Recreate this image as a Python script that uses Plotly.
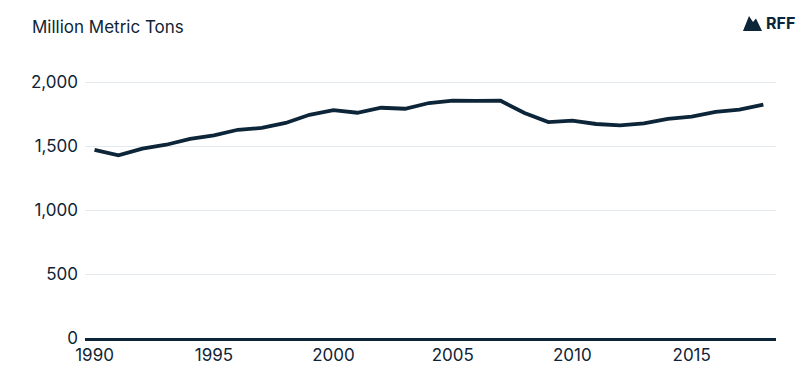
import plotly.graph_objects as go

years = list(range(1990, 2019))
emissions = [1470, 1427, 1479, 1510, 1555, 1583, 1627, 1641, 1680, 1744,
             1781, 1760, 1799, 1791, 1836, 1854, 1852, 1854, 1758, 1687,
             1698, 1672, 1661, 1677, 1713, 1729, 1766, 1784, 1823]
x_ticks = [1990, 1995, 2000, 2005, 2010, 2015]
y_ticks = [0, 500, 1000, 1500, 2000]

DARK = "#0c2538"
TEXT = "#0f2436"
GRID = "#e2eaf0"
FONT = "Inter"

W, H = 811, 383
L, R, T, B = 85, 35, 81, 45
pw, ph = W - L - R, H - T - B

def px(x):
    return (x - L) / pw

def py(y):
    return (H - B - y) / ph

fig = go.Figure()
fig.add_trace(go.Scatter(
    x=years, y=emissions, mode="lines",
    line=dict(color=DARK, width=3.8),
    hoverinfo="x+y", showlegend=False,
))

# RFF logo mountain
pts = [(743, 31), (749, 16), (753, 22), (756, 18.5), (762, 31)]
path = "M " + " L ".join(f"{px(a):.5f},{py(b):.5f}" for a, b in pts) + " Z"

fig.update_layout(
    width=W, height=H,
    margin=dict(l=L, r=R, t=T, b=B),
    paper_bgcolor="white", plot_bgcolor="white",
    font=dict(family=FONT, color=TEXT, size=17),
    xaxis=dict(
        range=[1989.6, 2018.53], tickvals=x_ticks, ticktext=[str(v) for v in x_ticks],
        showgrid=False, zeroline=False, showline=True, linecolor=DARK, linewidth=2.6,
        ticks="", tickfont=dict(size=17, color=TEXT),
    ),
    yaxis=dict(
        range=[0, 2008], tickvals=y_ticks, tickformat=",",
        showgrid=True, gridcolor=GRID, gridwidth=1.3, zeroline=False,
        showline=False, ticks="", ticklabelstandoff=6,
        tickfont=dict(size=17, color=TEXT),
    ),
    shapes=[dict(type="path", xref="paper", yref="paper", path=path,
                 fillcolor=DARK, line=dict(width=0))],
    annotations=[
        dict(text="Million Metric Tons", xref="paper", yref="paper",
             x=px(30), y=py(27), xanchor="left", yanchor="middle",
             showarrow=False, font=dict(size=17, color=TEXT, family=FONT)),
        dict(text="<b>RFF</b>", xref="paper", yref="paper",
             x=px(764), y=py(23.5), xanchor="left", yanchor="middle",
             showarrow=False, font=dict(size=16, color=DARK, family=FONT)),
    ],
)

fig.write_html("out.html", config={"displayModeBar": False},
               post_script="document.body.style.margin='0';")
